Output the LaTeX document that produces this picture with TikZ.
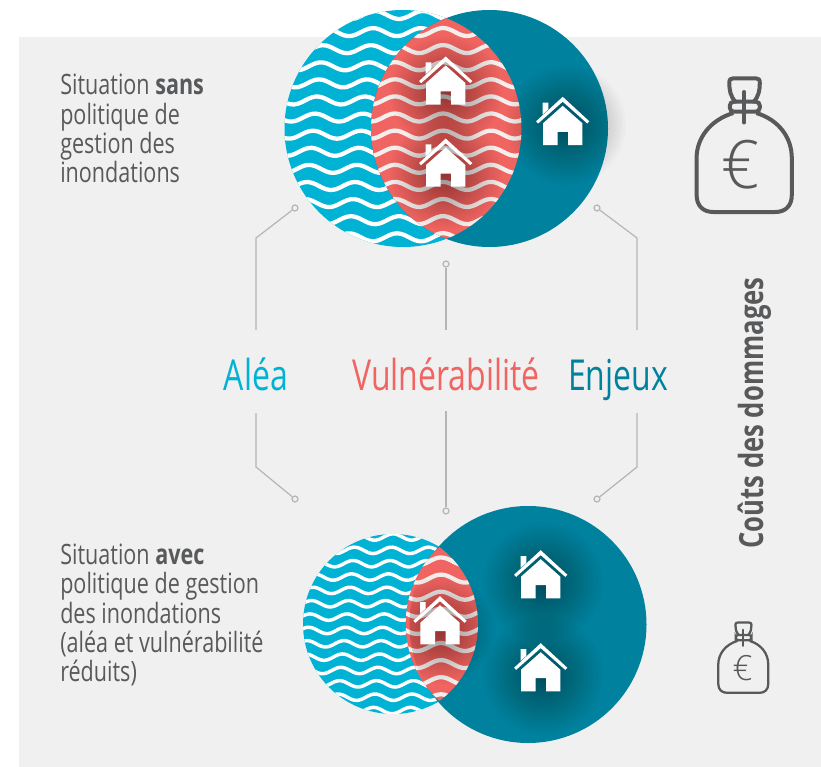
\documentclass[tikz,border=0pt]{standalone}
\usepackage{fontspec}
\setmainfont{Open Sans}[FakeStretch=0.77]
\newfontfamily\labelfont{Open Sans}[FakeStretch=0.75]
\newfontfamily\eurofont{Open Sans Light}
\definecolor{bgc}{HTML}{F0F0F0}
\definecolor{cyanc}{HTML}{00B3D4}
\definecolor{tealc}{HTML}{00829F}
\definecolor{redc}{HTML}{F06461}
\definecolor{textc}{HTML}{58595B}
\definecolor{linec}{HTML}{B5B5B5}
\definecolor{wavec}{HTML}{F4EEEC}
\newcommand{\softglow}[3]{%
  \foreach \i in {1,...,28}{
    \pgfmathsetmacro{\rr}{#3*(\i/28)^1.2}
    \fill[black,opacity=0.016] (#1,#2) circle (\rr);
  }%
}
\tikzset{
  wave/.style={white,line width=3.2pt,line join=round},
  lenswave/.style={wavec,line width=3.2pt,line join=round},
  wavesmall/.style={white,line width=2.6pt,line join=round},
  wire/.style={linec,line width=0.9pt},
  ring/.style={circle,draw=linec,line width=0.9pt,fill=none,minimum size=4.5pt,inner sep=0pt},
  para/.style={anchor=base west,align=left,inner sep=0pt,text=textc,font=\fontsize{21pt}{22pt}\selectfont},
  biglabel/.style={anchor=base,inner sep=0pt,font=\labelfont\fontsize{32pt}{36pt}\selectfont},
  bagline/.initial=3pt,
  bagcorner/.initial=3pt,
  house/.pic={
    \fill[white] (0,-0.5)--(26.6,24)--(24.6,26.2)--(0,4.4)--(-24.6,26.2)--(-26.6,24)--cycle;
    \fill[white] (0,8.5)--(19.7,26)--(19.7,47.7)--(5.5,47.7)--(5.5,34.5)--(-5,34.5)--(-5,47.7)--(-19.7,47.7)--(-19.7,26)--cycle;
    \fill[white] (-20,5.3)--(-14.3,5.3)--(-14.3,12)--(-20,17.2)--cycle;
  },
  bag/.pic={
    \draw[textc,line join=round,line cap=round,line width=\pgfkeysvalueof{/tikz/bagline}]
      (-9,41.7) .. controls (-14,36) and (-15,30) .. (-15,23) .. controls (-15,19.5) and (-14,18.3) .. (-11,18.3)
      -- (11.5,18.3) .. controls (14.5,18.3) and (15.5,19.5) .. (15.5,23) .. controls (15.5,30) and (14.5,36) .. (9.5,41.7);
    \draw[textc,line width=\pgfkeysvalueof{/tikz/bagline},rounded corners=\pgfkeysvalueof{/tikz/bagcorner}]
      (-14.5,41.7) rectangle (15.5,51.7);
    \draw[textc,line cap=round,line width=\pgfkeysvalueof{/tikz/bagline}] (0,32) -- (0,62.5);
    \draw[textc,line join=round,line width=\pgfkeysvalueof{/tikz/bagline}]
      (-11,53) .. controls (-34,60) and (-47.7,78) .. (-47.7,98) -- (-47.7,135)
      .. controls (-47.7,146) and (-41,152) .. (-31,152) -- (31,152)
      .. controls (41,152) and (47.5,146) .. (47.5,135) -- (47.5,98)
      .. controls (47.5,78) and (35,60) .. (12,53);
  },
}
\begin{document}
\begin{tikzpicture}[x=0.75pt,y=-0.75pt]
\useasboundingbox (0,0) rectangle (821,767);
\fill[white] (0,0) rectangle (821,767);
\fill[bgc] (19,37) rectangle (821,767);

% ---- top circles
\fill[cyanc] (403,128.5) circle (118.5);
\begin{scope}
  \clip (403,128.5) circle (118.5);
  \foreach \r in {0,...,14}{
    \draw[wave] plot[domain=280:525,samples=70,smooth] (\x,{15+17.1*\r-4*cos(7.5*(\x-323+2*\r-4))});
  }
\end{scope}
\fill[tealc] (489.5,128.5) circle (118.5);
\begin{scope}
  \clip (403,128.5) circle (118.5);
  \clip (489.5,128.5) circle (118.5);
  \fill[redc] (360,0) rectangle (530,260);
  \foreach \r in {0,...,14}{
    \draw[lenswave] plot[domain=360:530,samples=60,smooth] (\x,{32+17.1*\r-4*cos(7.5*(\x-443))});
  }
\end{scope}

% ---- bottom circles
\fill[cyanc] (393,624) circle (90);
\begin{scope}
  \clip (393,624) circle (90);
  \foreach \r in {0,...,14}{
    \draw[wavesmall] plot[domain=298:490,samples=70,smooth] (\x,{537+13.35*\r-3.2*cos(9.73*(\x-393+1.5*\r))});
  }
\end{scope}
\fill[tealc] (528,624.5) circle (118.5);
\begin{scope}
  \clip (510.7,624) circle (105);
  \clip (382,624) circle (96);
  \fill[redc] (400,540) rectangle (485,710);
  \foreach \r in {0,...,9}{
    \draw[lenswave] plot[domain=400:485,samples=40,smooth] (\x,{561.5+17.1*\r-4*cos(7.5*(\x-441))});
  }
\end{scope}

% ---- soft shadows round the houses
\softglow{566}{125}{60}
\begin{scope}
  \clip (403,128.5) circle (118.5);
  \clip (489.5,128.5) circle (118.5);
  \softglow{446}{92}{56}
  \softglow{446}{174}{56}
\end{scope}
\begin{scope}
  \clip (528,624.5) circle (118.5);
  \softglow{543}{582}{60}
  \softglow{543}{675}{60}
  \softglow{441}{630}{54}
\end{scope}

% ---- houses
\pic at (562.7,97.3) {house};
\pic at (445.7,57) {house};
\pic at (445.7,139) {house};
\pic at (540.7,550.7) {house};
\pic at (540.7,643.7) {house};
\pic at (440,596.7) {house};

% ---- labels
\node[biglabel,text=cyanc] (alea) at (256,390.7) {Aléa};
\node[biglabel,text=redc] (vuln) at (446,390.7) {Vulnérabilité};
\node[biglabel,text=tealc] (enj) at (618,390.7) {Enjeux};

\node[para] (txtA) at (60,182.7) {Situation \textbf{sans}\\politique de\\gestion des\\inondations};
\node[para] (txtB) at (60,681.7) {Situation \textbf{avec}\\politique de gestion\\des inondations\\(aléa et vulnérabilité\\réduits)};
\node[anchor=base,rotate=90,inner sep=0pt,text=textc,font=\fontsize{25pt}{28pt}\selectfont\bfseries] (cout) at (763.3,413) {Coûts des dommages};

% ---- connectors
\node[ring] (r1) at (295,208) {};
\node[ring] (r2) at (446,264) {};
\node[ring] (r3) at (597,208) {};
\node[ring] (r4) at (295,499) {};
\node[ring] (r5) at (446,511) {};
\node[ring] (r6) at (597,499) {};
\coordinate (a1) at (256,330);
\coordinate (a2) at (446,330);
\coordinate (a3) at (637,330);
\coordinate (b1) at (256,413);
\coordinate (b2) at (446,411);
\coordinate (b3) at (637,413);
\coordinate (k1) at (256,238);
\coordinate (k3) at (637,238);
\coordinate (k4) at (256,467);
\coordinate (k6) at (637,467);
\draw[wire] (a1) -- (k1) -- (r1);
\draw[wire] (a2) -- (r2);
\draw[wire] (a3) -- (k3) -- (r3);
\draw[wire] (b1) -- (k4) -- (r4);
\draw[wire] (b2) -- (r5);
\draw[wire] (b3) -- (k6) -- (r6);

% ---- money bags
\pic at (744.3,60) {bag};
\node[inner sep=0pt,text=textc,font=\eurofont\fontsize{50pt}{52pt}\selectfont] (eurobig) at (740.5,165) {€};
\begin{scope}[shift={(743.3,613)},scale=0.525,bagline=1.7pt,bagcorner=2pt]
  \pic[transform shape] at (0,0) {bag};
\end{scope}
\node[inner sep=0pt,text=textc,font=\eurofont\fontsize{26pt}{28pt}\selectfont] (eurosmall) at (742.5,668) {€};
\end{tikzpicture}
\end{document}
